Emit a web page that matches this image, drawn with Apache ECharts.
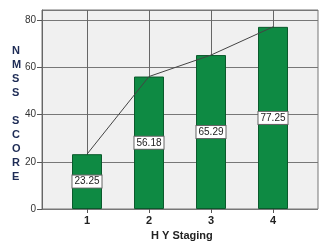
<!DOCTYPE html>
<html><head><meta charset="utf-8">
<script src="https://cdn.jsdelivr.net/npm/echarts@6/dist/echarts.min.js"></script>
<style>html,body{margin:0;padding:0;background:#fff}#c{width:334px;height:249px}</style>
</head><body><div id="c"></div>
<script>
const categories = ['1','2','3','4'];
const scores = [23.25, 56.18, 65.29, 77.25];
const yTicks = [0,20,40,60,80];
const xTitle = 'H Y Staging';
const yTitle = 'N\nM\nS\nS\n\nS\nC\nO\nR\nE';

const yMax = 84.4;
const chart = echarts.init(document.getElementById('c'));
chart.setOption({
  animation: false,
  grid: [
    {left: 42, right: 16, top: 10, bottom: 40, show: true, backgroundColor: '#f0f0f0', borderColor: '#777', borderWidth: 1},
    {left: 87, right: 61, top: 10, bottom: 40}
  ],
  xAxis: [
    {gridIndex: 0, type: 'value', min: 0, max: 1, show: false},
    {gridIndex: 1, type: 'category', data: categories, boundaryGap: false,
     axisLine: {show: false},
     axisTick: {show: true, length: 4, lineStyle: {color: '#555'}},
     axisLabel: {color: '#222', fontWeight: 'bold', fontSize: 11, fontFamily: 'Liberation Sans, Arial', margin: 6},
     splitLine: {show: true, lineStyle: {color: '#666', width: 1}}}
  ],
  yAxis: [
    {gridIndex: 0, type: 'value', min: 0, max: yMax, interval: 20,
     axisLine: {show: true, lineStyle: {color: '#666'}},
     axisTick: {show: true, length: 5, lineStyle: {color: '#555'}},
     axisLabel: {showMaxLabel: false, color: '#333', fontSize: 10, fontFamily: 'Liberation Sans, Arial', margin: 6,
       formatter: v => yTicks.includes(v) ? String(v) : ''},
     splitLine: {show: true, lineStyle: {color: '#777', width: 1}}},
    {gridIndex: 1, type: 'value', min: 0, max: yMax, show: false, splitLine: {show: false}}
  ],
  series: [
    {type: 'bar', xAxisIndex: 1, yAxisIndex: 1, data: scores, barWidth: 30,
     itemStyle: {color: '#0e8a43', borderColor: '#0a5a2c', borderWidth: 1},
     label: {show: true, position: 'inside', color: '#222', fontSize: 10, fontFamily: 'Liberation Sans, Arial',
       backgroundColor: '#fff', borderColor: '#666', borderWidth: 1, padding: [1, 2],
       formatter: p => p.value.toFixed(2)}},
    {type: 'line', xAxisIndex: 1, yAxisIndex: 1, data: scores, symbol: 'none', z: 3,
     lineStyle: {color: '#444', width: 1}}
  ],
  graphic: [
    {type: 'text', left: 12, top: 44, style: {text: yTitle, fill: '#1d2b55', font: 'bold 11px Liberation Sans, Arial', lineHeight: 14, align: 'center'}},
    {type: 'text', left: 151, top: 230, style: {text: xTitle, fill: '#222', font: 'bold 11px Liberation Sans, Arial'}}
  ]
});
</script></body></html>
